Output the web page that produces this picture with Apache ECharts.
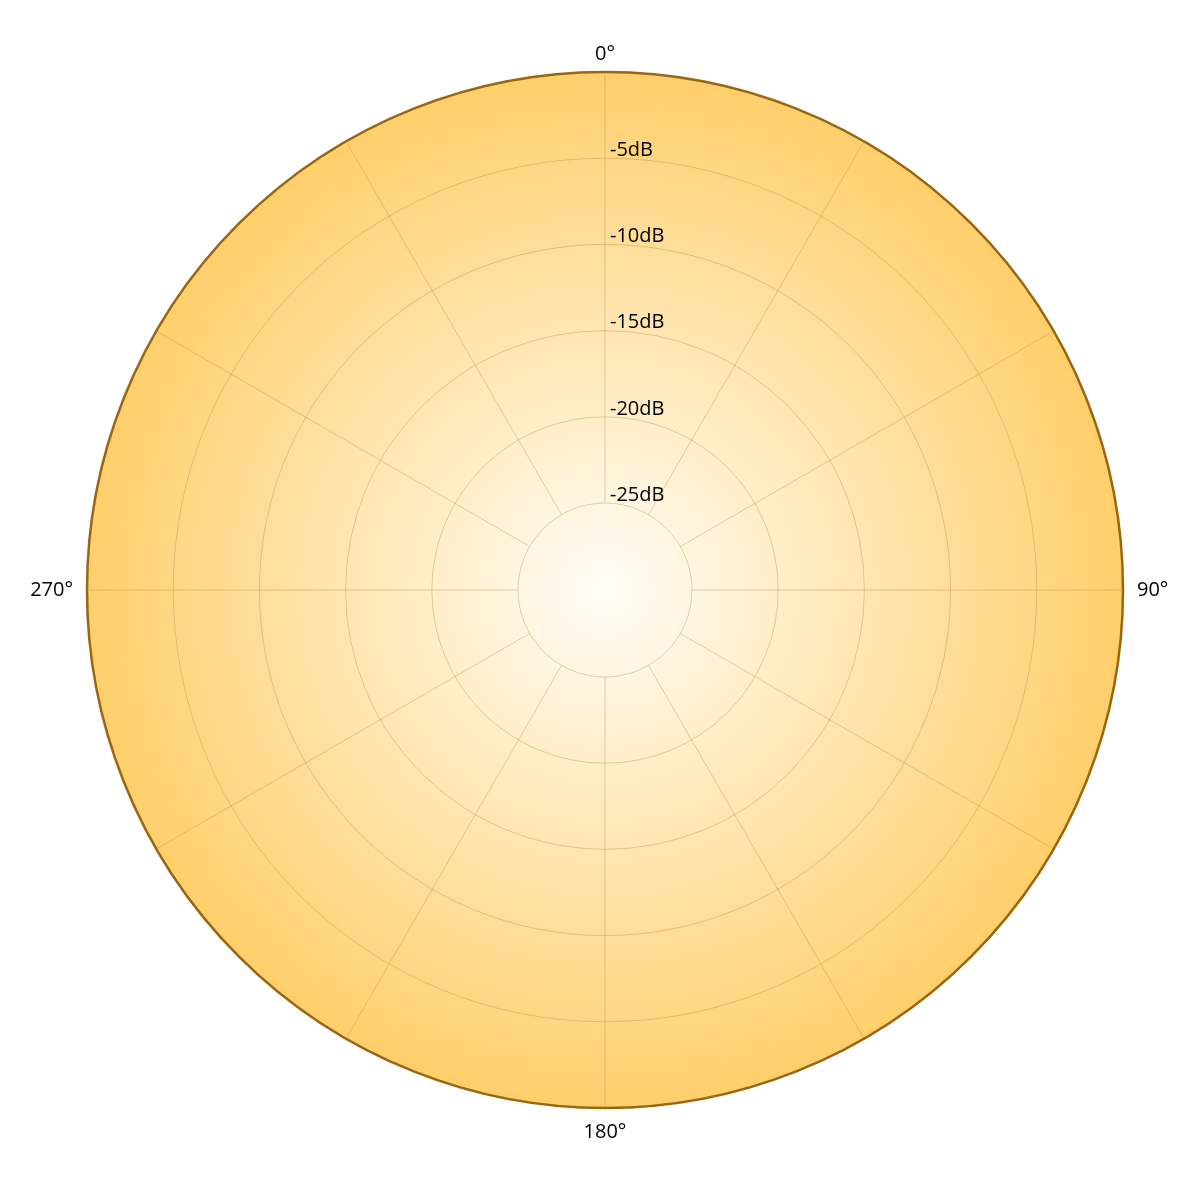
<!DOCTYPE html>
<html>
<head>
<meta charset="utf-8">
<script src="https://cdn.jsdelivr.net/npm/echarts@6/dist/echarts.min.js"></script>
<style>
html,body{margin:0;padding:0;background:#fff;}
#chart{width:1200px;height:1200px;}
</style>
</head>
<body>
<div id="chart"></div>
<script>
// Data
var angleTicks = [0, 30, 60, 90, 120, 150, 180, 210, 240, 270, 300, 330];
var angleLabels = [0, 90, 180, 270];
var radiusTicks = [-25, -20, -15, -10, -5, 0];
var radiusLabels = [-25, -20, -15, -10, -5];

var FONT = '"Open Sans", "Noto Sans", sans-serif';
var chart = echarts.init(document.getElementById('chart'), null, {renderer: 'canvas'});
var cx = 605, cy = 590, rOuter = 518, rInner = 87;

var option = {
  backgroundColor: '#ffffff',
  animation: false,
  graphic: {
    elements: [{
      type: 'circle',
      z: -10,
      silent: true,
      shape: {cx: cx, cy: cy, r: rOuter},
      style: {
        fill: {
          type: 'radial', x: 0.5, y: 0.5, r: 0.5,
          colorStops: [
            {offset: 0, color: '#fffdf8'},
            {offset: 1, color: '#ffcf6c'}
          ]
        }
      }
    }, {
      type: 'circle',
      z: 100,
      silent: true,
      shape: {cx: cx, cy: cy, r: rOuter},
      style: {fill: null, stroke: '#9a6612', lineWidth: 2.5}
    }]
  },
  polar: {
    center: [cx, cy],
    radius: [rInner, rOuter]
  },
  angleAxis: {
    type: 'value',
    min: 0,
    max: 360,
    interval: 30,
    startAngle: 90,
    clockwise: true,
    axisLine: {show: false},
    axisTick: {show: false},
    axisLabel: {
      show: true,
      margin: 8,
      color: '#000',
      fontSize: 20,
      fontFamily: FONT,
      formatter: function (v) {
        if (angleLabels.indexOf(v) < 0) return '';
        if (v === 90) return '{r|' + v + '°}';
        if (v === 270) return '{l|' + v + '°}';
        if (v === 180) return '{b|' + v + '°}';
        return v + '°';
      },
      rich: {
        r: {fontSize: 20, fontFamily: FONT, color: '#000', padding: [0, 0, 0, 6]},
        l: {fontSize: 20, fontFamily: FONT, color: '#000', padding: [0, 6, 0, 0]},
        b: {fontSize: 20, fontFamily: FONT, color: '#000', padding: [6, 0, 0, 0]}
      }
    },
    splitLine: {show: true, lineStyle: {color: 'rgba(170,140,80,0.38)', width: 1}}
  },
  radiusAxis: {
    type: 'value',
    min: radiusTicks[0],
    max: radiusTicks[radiusTicks.length - 1],
    interval: 5,
    axisLine: {show: false},
    axisTick: {show: false},
    axisLabel: {
      show: true,
      showMaxLabel: false,
      margin: -5,
      align: 'left',
      verticalAlign: 'bottom',
      lineHeight: 16,
      color: '#000',
      fontSize: 20,
      fontFamily: FONT,
      formatter: function (v) {
        return radiusLabels.indexOf(v) >= 0 ? v + 'dB' : '';
      }
    },
    splitLine: {show: true, lineStyle: {color: 'rgba(170,140,80,0.38)', width: 1}}
  },
  series: []
};
chart.setOption(option);
</script>
</body>
</html>
